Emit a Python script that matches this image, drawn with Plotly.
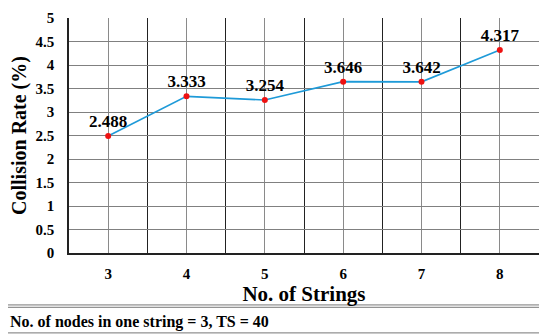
import plotly.graph_objects as go

# data
strings = [3, 4, 5, 6, 7, 8]
collision_rate = [2.488, 3.333, 3.254, 3.646, 3.642, 4.317]
y_ticks = [0, 0.5, 1, 1.5, 2, 2.5, 3, 3.5, 4, 4.5, 5]
y_tick_labels = ["0", "0.5", "1", "1.5", "2", "2.5", "3", "3.5", "4", "4.5", "5"]
caption = "No. of nodes in one string = 3, TS = 40"

FONT = "Liberation Serif"

# dark lines between the categories
borders = [s - 0.5 for s in strings] + [strings[-1] + 0.5]

fig = go.Figure()

fig.add_trace(go.Scatter(
    x=strings, y=collision_rate,
    mode="lines+markers+text",
    line=dict(color="#1e9ad8", width=1.6),
    marker=dict(color="#ee1111", size=6),
    text=[f"{v:.3f}" for v in collision_rate],
    textposition="top center",
    textfont=dict(family=FONT, size=17, color="black", weight="bold"),
    cliponaxis=False,
    showlegend=False,
))

# page body has an 8px margin, so the figure is 8px smaller each way
fig.update_layout(
    template="none",
    width=542, height=327,
    margin=dict(l=61, r=11, t=10, b=82),
    paper_bgcolor="white", plot_bgcolor="white",
    font=dict(family=FONT, color="black"),
    xaxis=dict(
        range=[borders[0], borders[-1]], tickvals=strings,
        ticktext=[str(s) for s in strings],
        showgrid=True, gridcolor="#8a8a8a", gridwidth=1,
        minor=dict(tickvals=borders, showgrid=True, gridcolor="#222",
                   gridwidth=1.2, ticks=""),
        zeroline=False, showline=True, linecolor="#222", linewidth=1.5,
        ticks="outside", ticklen=6, tickcolor="rgba(0,0,0,0)",
        automargin=False,
        tickfont=dict(family=FONT, size=15, weight="bold"),
        title=dict(text="No. of Strings", standoff=2,
                   font=dict(family=FONT, size=21, weight="bold")),
    ),
    yaxis=dict(
        range=[0, 5], tickvals=y_ticks, ticktext=y_tick_labels,
        showgrid=True, gridcolor="#808080", gridwidth=1,
        zeroline=False, showline=True, linecolor="#222", linewidth=1.5,
        ticks="outside", ticklen=10, tickcolor="rgba(0,0,0,0)",
        automargin=False,
        tickfont=dict(family=FONT, size=15, weight="bold"),
        title=dict(text="Collision Rate (%)", standoff=6,
                   font=dict(family=FONT, size=20, weight="bold")),
    ),
    shapes=[
        dict(type="line", xref="paper", yref="paper", x0=-0.13, x1=1.0,
             y0=-0.221, y1=-0.221, line=dict(color="#777", width=1)),
        dict(type="line", xref="paper", yref="paper", x0=-0.13, x1=1.0,
             y0=-0.231, y1=-0.231, line=dict(color="#777", width=1)),
        dict(type="line", xref="paper", yref="paper", x0=-0.13, x1=1.0,
             y0=-0.340, y1=-0.340, line=dict(color="#777", width=1)),
    ],
    annotations=[
        dict(text=caption, xref="paper", yref="paper", x=-0.13, y=-0.294,
             xanchor="left", yanchor="middle", showarrow=False,
             font=dict(family=FONT, size=16, weight="bold")),
    ],
)

fig.write_html("out.html")
